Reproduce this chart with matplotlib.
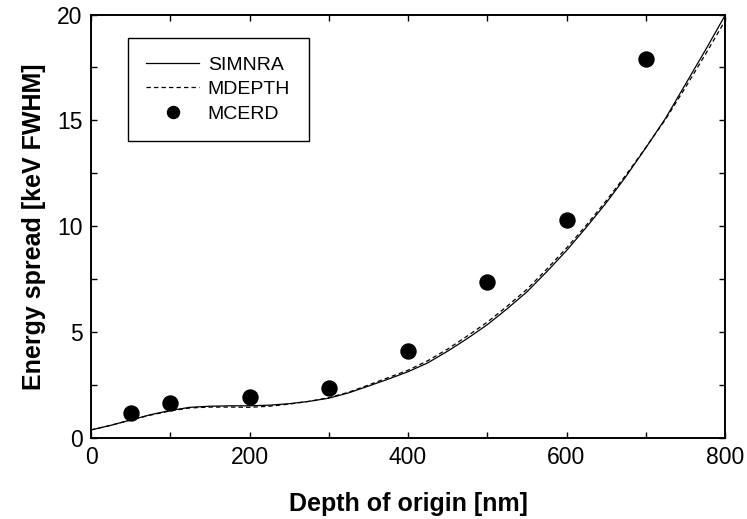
import matplotlib
matplotlib.use("Agg")
import matplotlib.pyplot as plt
from matplotlib.ticker import MultipleLocator

plt.rcParams['font.family'] = ['Liberation Sans', 'DejaVu Sans']

depth_curve = [0, 25, 50, 75, 100, 125, 150, 175, 200, 225, 250, 275, 300, 325, 350,
               375, 400, 425, 450, 475, 500, 525, 550, 575, 600, 625, 650, 675, 700,
               725, 750, 775, 800]
simnra = [0.38, 0.6, 0.85, 1.1, 1.3, 1.45, 1.5, 1.52, 1.52, 1.55, 1.62, 1.73, 1.88,
          2.13, 2.45, 2.78, 3.13, 3.55, 4.1, 4.7, 5.35, 6.1, 6.9, 7.85, 8.85, 9.95,
          11.1, 12.35, 13.7, 15.1, 16.7, 18.3, 19.95]
mdepth = [0.38, 0.6, 0.85, 1.08, 1.28, 1.42, 1.46, 1.46, 1.45, 1.5, 1.6, 1.73, 1.9,
          2.16, 2.5, 2.85, 3.2, 3.65, 4.2, 4.82, 5.47, 6.22, 7.02, 7.97, 8.97, 10.05,
          11.2, 12.42, 13.72, 15.05, 16.55, 18.1, 19.7]
depth_mcerd = [50, 100, 200, 300, 400, 500, 600, 700]
mcerd = [1.17, 1.64, 1.95, 2.38, 4.12, 7.35, 10.29, 17.9]

fig = plt.figure(figsize=(7.47, 5.19), dpi=100)
ax = fig.add_axes([91/747, 81/519, 634/747, 423.5/519])

ax.plot(depth_curve, simnra, color='black', lw=0.9, label='SIMNRA')
ax.plot(depth_curve, mdepth, color='black', lw=0.9, ls=(0, (3.5, 2.5)), label='MDEPTH')
ax.plot(depth_mcerd, mcerd, 'o', color='black', ms=10.8, ls='none', label='MCERD')

ax.set_xlim(0, 800)
ax.set_ylim(0, 20)
ax.xaxis.set_major_locator(MultipleLocator(200))
ax.xaxis.set_minor_locator(MultipleLocator(100))
ax.yaxis.set_major_locator(MultipleLocator(5))
ax.yaxis.set_minor_locator(MultipleLocator(2.5))
ax.tick_params(which='both', direction='in', top=True, right=True, width=1.0,
               length=4.5, labelsize=16.5)
ax.tick_params(axis='x', pad=6)
ax.tick_params(axis='y', pad=6)
for s in ax.spines.values():
    s.set_linewidth(1.4)

ax.set_xlabel('Depth of origin [nm]', fontsize=18, fontweight='bold', labelpad=16)
ax.set_ylabel('Energy spread [keV FWHM]', fontsize=18, fontweight='bold', labelpad=8)

leg = ax.legend(loc='upper left', bbox_to_anchor=(0.0584, 0.945), borderaxespad=0,
                fontsize=14, handlelength=2.7, handletextpad=0.45, labelspacing=0.35,
                fancybox=False, edgecolor='black', framealpha=1, borderpad=0.95,
                markerscale=0.8)
leg.get_frame().set_linewidth(1.0)

fig.savefig('out.png', dpi=100)
